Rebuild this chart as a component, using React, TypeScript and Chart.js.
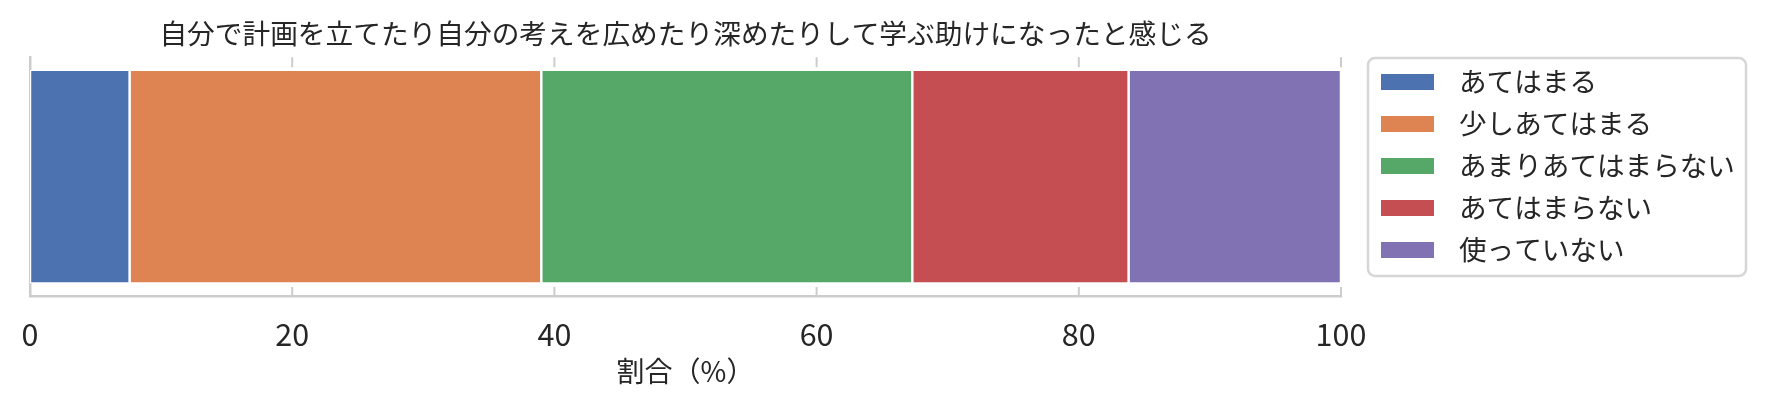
import React, { useEffect, useRef } from "react";
import { Chart, registerables } from "chart.js";

Chart.register(...registerables);

const FONT = '"Noto Sans CJK JP", "Noto Sans", sans-serif';
const TEXT = "#262626";
const SPINE = "#cccccc";

const title = "自分で計画を立てたり自分の考えを広めたり深めたりして学ぶ助けになったと感じる";
const xAxisLabel = "割合（%）";
const categories = [""];
const seriesLabels = ["あてはまる", "少しあてはまる", "あまりあてはまらない", "あてはまらない", "使っていない"];
const seriesColors = ["#4C72B0", "#DD8452", "#55A868", "#C44E52", "#8172B3"];
const atehamaru = [7.6];
const sukoshiAtehamaru = [31.4];
const amariAtehamaranai = [28.3];
const atehamaranai = [16.5];
const tsukatteinai = [16.2];
const xTicks = [0, 20, 40, 60, 80, 100];

const seriesValues = [atehamaru, sukoshiAtehamaru, amariAtehamaranai, atehamaranai, tsukatteinai];

const innerTicksPlugin = {
  id: "innerTicks",
  afterDatasetsDraw(chart: any) {
    const { ctx, chartArea } = chart;
    const xs = chart.scales.x;
    ctx.save();
    ctx.strokeStyle = SPINE;
    ctx.lineWidth = 2;
    xTicks.forEach((v) => {
      const px = xs.getPixelForValue(v);
      ctx.beginPath();
      ctx.moveTo(px, chartArea.bottom);
      ctx.lineTo(px, chartArea.bottom - 9);
      ctx.moveTo(px, chartArea.top);
      ctx.lineTo(px, chartArea.top + 10);
      ctx.stroke();
    });
    ctx.restore();
  },
};

const boxLegendPlugin = {
  id: "boxLegend",
  afterDraw(chart: any) {
    const { ctx } = chart;
    const left = 1368;
    const top = 58;
    const width = 378;
    const height = 218;
    ctx.save();
    ctx.strokeStyle = "#d6d6d6";
    ctx.lineWidth = 2.5;
    ctx.beginPath();
    ctx.roundRect(left, top, width, height, 7);
    ctx.fillStyle = "#ffffff";
    ctx.fill();
    ctx.stroke();
    ctx.font = `27.6px ${FONT}`;
    ctx.textBaseline = "middle";
    ctx.textAlign = "left";
    chart.data.datasets.forEach((ds: any, i: number) => {
      const cy = top + 24 + i * 42;
      ctx.fillStyle = ds.backgroundColor;
      ctx.fillRect(left + 13, cy - 8, 53, 16);
      ctx.fillStyle = TEXT;
      ctx.fillText(ds.label, left + 91, cy);
    });
    ctx.restore();
  },
};

export default function App() {
  const ref = useRef<HTMLCanvasElement | null>(null);

  useEffect(() => {
    document.body.style.margin = "0";
    const canvas = ref.current;
    if (!canvas) return;
    const chart = new Chart(canvas, {
      type: "bar",
      data: {
        labels: categories,
        datasets: seriesLabels.map((label, i) => ({
          label,
          data: seriesValues[i],
          backgroundColor: seriesColors[i],
          borderColor: "#ffffff",
          borderWidth: 1.25,
          borderSkipped: false,
          barPercentage: 0.895,
          categoryPercentage: 1,
        })),
      },
      options: {
        indexAxis: "y",
        animation: false,
        responsive: false,
        devicePixelRatio: 1,
        layout: { padding: { left: 0, right: 424, top: 0, bottom: 0 } },
        plugins: {
          legend: { display: false },
          tooltip: { enabled: false },
          title: {
            display: true,
            text: title,
            fullSize: false,
            color: TEXT,
            font: { family: FONT, size: 27.7, weight: "normal" },
            padding: { top: 17, bottom: 7 },
          },
        },
        scales: {
          x: {
            type: "linear",
            stacked: true,
            min: 0,
            max: 100,
            afterBuildTicks: (scale: any) => {
              scale.ticks = xTicks.map((v) => ({ value: v }));
            },
            afterFit: (scale: any) => {
              scale.height = 113;
            },
            grid: { display: false, drawTicks: false },
            border: { display: true, color: SPINE, width: 2.5 },
            ticks: {
              color: TEXT,
              font: { family: FONT, size: 30.5 },
              padding: 20,
              maxRotation: 0,
            },
            title: {
              display: true,
              text: xAxisLabel,
              color: TEXT,
              font: { family: FONT, size: 28 },
              padding: { top: 0, bottom: 21 },
            },
          },
          y: {
            type: "category",
            stacked: true,
            afterFit: (scale: any) => {
              scale.width = 30;
            },
            grid: { display: false, drawTicks: false },
            border: { display: true, color: SPINE, width: 2.5 },
            ticks: { display: false },
          },
        },
      },
      plugins: [innerTicksPlugin, boxLegendPlugin],
    });
    return () => chart.destroy();
  }, []);

  return (
    <div style={{ width: 1765, height: 409 }}>
      <canvas ref={ref} width={1765} height={409} style={{ display: "block", width: 1765, height: 409 }} />
    </div>
  );
}
